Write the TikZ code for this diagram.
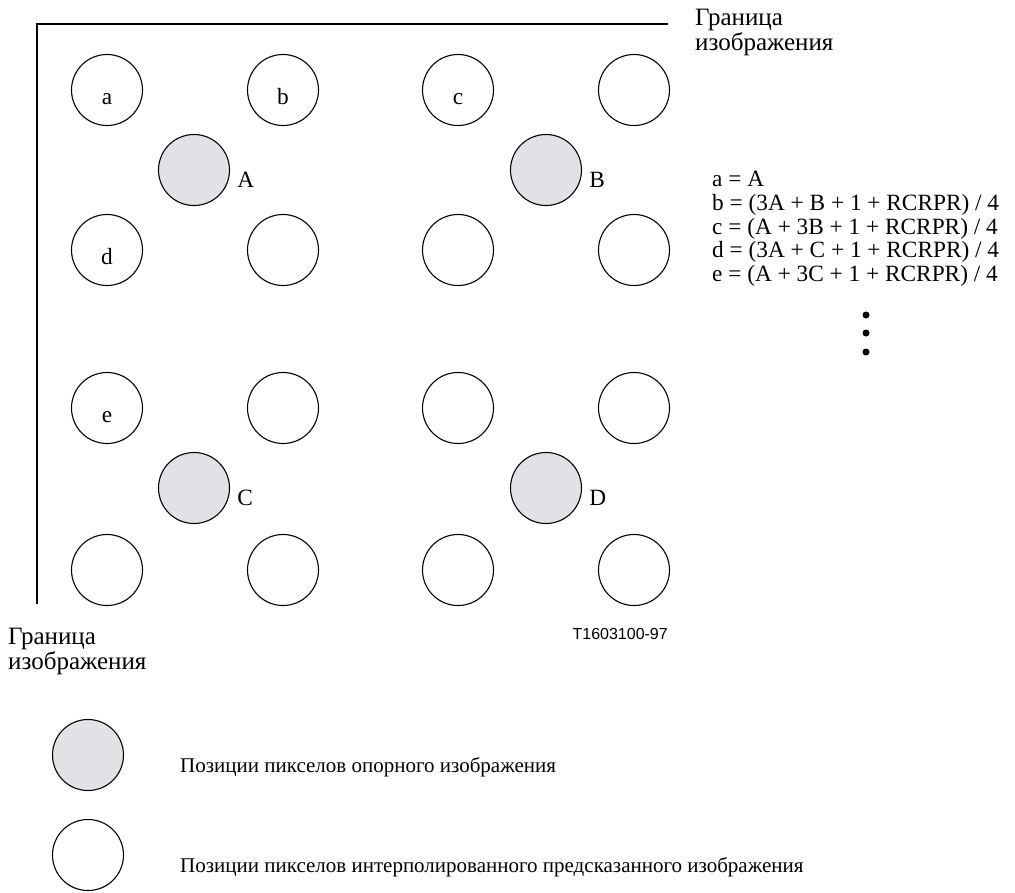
\documentclass[tikz,border=0pt]{standalone}
\usepackage{fontspec}
\setmainfont{Liberation Serif}
\newfontfamily\labelsans{Liberation Sans}
\begin{document}
\begin{tikzpicture}[x=1pt,y=-1pt,
  frame/.style={line width=1.1pt,black},
  pix/.style={circle,draw=black,line width=1.1pt,minimum size=71pt,inner sep=0pt},
  refpix/.style={pix,fill=refgray},
  txt/.style={font=\fontsize{21}{24}\selectfont,inner sep=0pt,anchor=base west},
  big/.style={font=\fontsize{23.3}{24}\selectfont,inner sep=0pt,anchor=base west},
  bordercaption/.style={font=\fontsize{25}{25}\selectfont,inner sep=0pt,anchor=base west},
  inlbl/.style={big,anchor=base},
  dot/.style={circle,fill=black,minimum size=7pt,inner sep=0pt}]
\definecolor{refgray}{RGB}{225,226,229}
\useasboundingbox (0,0) rectangle (1015,892);

% image border
\coordinate (tl) at (37,24);
\coordinate (tr) at (668,24);
\coordinate (bl) at (37,604);
\draw[frame] (tr) -- (tl) -- (bl);

% interpolated pixel grid
\foreach \c/\x in {1/107,2/283,3/458,4/634}
  \foreach \r/\y in {1/90,2/250,3/408,4/570}
    \node[pix] (p\r\c) at (\x,\y) {};

% reference pixels
\node[refpix] (A) at (194,170) {};
\node[refpix] (B) at (546,170) {};
\node[refpix] (C) at (194,488) {};
\node[refpix] (D) at (546,488) {};

% letters inside interpolated pixels
\node[inlbl] at ([yshift=-14pt]p11.center) {a};
\node[inlbl] at ([yshift=-14pt]p12.center) {b};
\node[inlbl] at ([yshift=-14pt]p13.center) {c};
\node[inlbl] at ([yshift=-14pt]p21.center) {d};
\node[inlbl] at ([yshift=-14pt]p31.center) {e};

% names of reference pixels
\node[big] at ([xshift=7pt,yshift=-17pt]A.east) {A};
\node[big] at ([xshift=7pt,yshift=-17pt]B.east) {B};
\node[big] at ([xshift=7pt,yshift=-17pt]C.east) {C};
\node[big] at ([xshift=7pt,yshift=-17pt]D.east) {D};

% border captions
\node[bordercaption] (btop1) at (695,25) {Граница};
\node[bordercaption] (btop2) at (695,50) {изображения};
\node[bordercaption] (bbot1) at (8,644) {Граница};
\node[bordercaption] (bbot2) at (8,669) {изображения};
\node[anchor=base east,inner sep=0pt,font=\labelsans\fontsize{16}{18}\selectfont] (code) at (668,639) {T1603100-97};

% interpolation formulas
\foreach \i/\y/\t in {1/186/{a = A},
                      2/210/{b = (3A + B + 1 + RCRPR) / 4},
                      3/234/{c = (A + 3B + 1 + RCRPR) / 4},
                      4/257/{d = (3A + C + 1 + RCRPR) / 4},
                      5/281/{e = (A + 3C + 1 + RCRPR) / 4}}
  \node[big] (eq\i) at (712,\y) {\t};
\node[dot] (d1) at (866,315) {};
\node[dot] (d2) at (866,333) {};
\node[dot] (d3) at (866,352) {};

% legend
\node[refpix] (lgref) at (88,755) {};
\node[pix] (lgint) at (88,855) {};
\node[txt] (lgreft) at (180,772) {Позиции пикселов опорного изображения};
\node[txt] (lgintt) at (180,872) {Позиции пикселов интерполированного предсказанного изображения};
\end{tikzpicture}
\end{document}
